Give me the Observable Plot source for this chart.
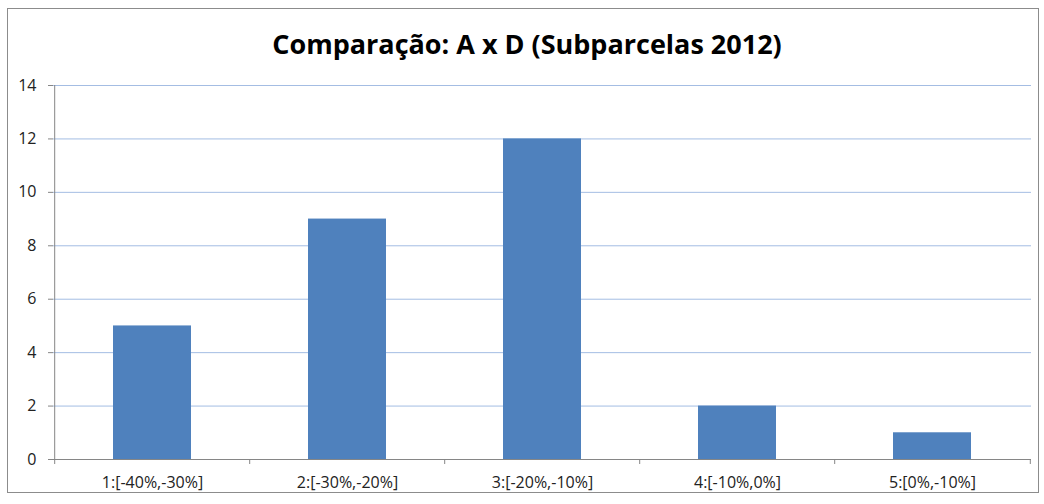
<!DOCTYPE html>
<html>
<head>
<meta charset="utf-8">
<script src="https://cdn.jsdelivr.net/npm/d3@7"></script>
<script src="https://cdn.jsdelivr.net/npm/@observablehq/plot@0.6"></script>
<style>
  html, body { margin: 0; padding: 0; background: #fff; }
  #wrap { position: relative; width: 1044px; height: 504px; overflow: hidden; background: #fff; }
  #border { position: absolute; left: 7px; top: 8px; width: 1032px; height: 485px; border: 1px solid #8c8c8c; box-sizing: border-box; }
  #title { position: absolute; left: 0; width: 1054px; top: 26px; text-align: center;
           font-family: "Open Sans", "Noto Sans", sans-serif; font-weight: bold; font-size: 27px; color: #000; line-height: 36px; }
  #chart { position: absolute; left: 0; top: 0; }
</style>
</head>
<body>
<div id="wrap">
  <div id="border"></div>
  <div id="title">Comparação: A x D (Subparcelas 2012)</div>
  <div id="chart"></div>
</div>
<script>
const categories = ["1:[-40%,-30%]", "2:[-30%,-20%]", "3:[-20%,-10%]", "4:[-10%,0%]", "5:[0%,-10%]"];
const counts = [5, 9, 12, 2, 1];
const yTicks = [0, 2, 4, 6, 8, 10, 12, 14];

const data = categories.map((c, i) => ({category: c, count: counts[i]}));

const W = 1044, H = 504;
const mLeft = 53, mRight = 13, mTop = 85, mBottom = 45;
const step = (W - mLeft - mRight) / categories.length;
const axisColor = "#868686";

const chart = Plot.plot({
  width: W,
  height: H,
  marginLeft: mLeft,
  marginRight: mRight,
  marginTop: mTop,
  marginBottom: mBottom,
  style: {fontFamily: "'Open Sans', 'Noto Sans', sans-serif", fontSize: "16px", color: "#222", background: "transparent"},
  x: {domain: categories, paddingInner: 0.6, paddingOuter: 0.3, label: null},
  y: {domain: [0, 14], label: null},
  marks: [
    Plot.gridY(yTicks, {stroke: "#a4bde3", strokeOpacity: 1}),
    Plot.rectY(data, {x: "category", y: "count", fill: "#4f81bd"}),
    Plot.ruleY([0], {stroke: axisColor}),
    Plot.ruleX([categories[0]], {y1: 0, y2: 14, dx: -step / 2, stroke: axisColor}),
    Plot.ruleX(categories, {y1: 0, y2: 0, insetBottom: -5, dx: -step / 2, stroke: axisColor}),
    Plot.ruleX([categories[categories.length - 1]], {y1: 0, y2: 0, insetBottom: -5, dx: step / 2, stroke: axisColor}),
    Plot.axisY(yTicks, {tickSize: 5, tickPadding: 12, stroke: axisColor, fill: "#222", fontSize: 16, label: null}),
    Plot.axisX({tickSize: 0, tickPadding: 17, fill: "#222", fontSize: 16, label: null})
  ]
});
document.getElementById("chart").appendChild(chart);
</script>
</body>
</html>
